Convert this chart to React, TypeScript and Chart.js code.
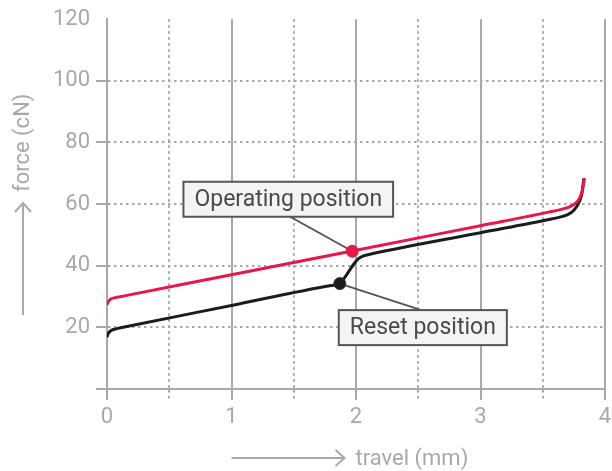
import React, { useEffect, useRef } from "react";
import { Chart, registerables } from "chart.js";

Chart.register(...registerables);

// ---- data ----
const operatingTravel = [0, 0.01, 0.03, 0.08, 0.15, 1, 2, 3, 3.55, 3.65, 3.72, 3.77, 3.8, 3.82, 3.835];
const operatingForce = [27.3, 28.3, 29.2, 29.75, 30.3, 37.1, 45.0, 53.0, 57.4, 58.3, 59.2, 60.5, 62.3, 64.8, 68.5];
const resetTravel = [0, 0.01, 0.03, 0.08, 0.15, 1, 1.8, 1.87, 1.92, 1.98, 2.02, 2.06, 2.12, 3, 3.55, 3.63, 3.7, 3.75, 3.79, 3.815, 3.83];
const resetForce = [16.8, 18.0, 18.9, 19.6, 20.2, 27.1, 33.6, 34.2, 36.8, 40.4, 42.3, 43.2, 43.8, 50.7, 55.0, 55.7, 56.6, 58.0, 60.5, 63.5, 68.3];
const operatingPoint = [1.97, 44.7];
const resetPoint = [1.87, 34.2];
const xMin = 0, xMax = 4, xStep = 0.5;
const yMin = 0, yMax = 120, yStep = 20;
const xTitle = "travel (mm)";
const yTitle = "force (cN)";
const operatingLabel = "Operating position";
const resetLabel = "Reset position";

const RED = "#e8174a";
const BLACK = "#1c1c1c";
const GRAY = "#a9a9a9";
const FONT = "Roboto";
const DOT = [2.5, 3.5];

const decorPlugin = {
  id: "decor",
  beforeDatasetsDraw(chart: any) {
    const { ctx, scales } = chart;
    const x = scales.x, y = scales.y;
    const op = { x: x.getPixelForValue(operatingPoint[0]), y: y.getPixelForValue(operatingPoint[1]) };
    const rs = { x: x.getPixelForValue(resetPoint[0]), y: y.getPixelForValue(resetPoint[1]) };
    ctx.save();
    ctx.strokeStyle = "#555";
    ctx.lineWidth = 2;
    ctx.beginPath();
    ctx.moveTo(op.x - 63, op.y - 35);
    ctx.lineTo(op.x, op.y);
    ctx.moveTo(rs.x, rs.y);
    ctx.lineTo(rs.x + 80, rs.y + 26);
    ctx.stroke();
    ctx.restore();
  },
  afterDatasetsDraw(chart: any) {
    const { ctx, scales, chartArea } = chart;
    const x = scales.x, y = scales.y;
    const op = { x: x.getPixelForValue(operatingPoint[0]), y: y.getPixelForValue(operatingPoint[1]) };
    const rs = { x: x.getPixelForValue(resetPoint[0]), y: y.getPixelForValue(resetPoint[1]) };

    const box = (text: string, cx: number, cy: number) => {
      ctx.save();
      ctx.font = `23px ${FONT}`;
      const w = ctx.measureText(text).width + 22;
      const h = 35;
      ctx.fillStyle = "#f4f4f4";
      ctx.fillRect(cx - w / 2, cy - h / 2, w, h);
      ctx.strokeStyle = "#555";
      ctx.lineWidth = 2;
      ctx.strokeRect(cx - w / 2, cy - h / 2, w, h);
      ctx.fillStyle = "#4a4a4a";
      ctx.textAlign = "center";
      ctx.textBaseline = "middle";
      ctx.fillText(text, cx, cy + 1);
      ctx.restore();
    };
    box(operatingLabel, op.x - 64, op.y - 52);
    box(resetLabel, rs.x + 83, rs.y + 44);

    // axis titles with arrows
    ctx.save();
    ctx.strokeStyle = GRAY;
    ctx.fillStyle = GRAY;
    ctx.lineWidth = 2;
    ctx.font = `22px ${FONT}`;
    // y
    const ax = 23;
    const yb = chartArea.bottom - 74, yt = chartArea.bottom - 186;
    ctx.beginPath();
    ctx.moveTo(ax, yb);
    ctx.lineTo(ax, yt);
    ctx.moveTo(ax - 8, yt + 9);
    ctx.lineTo(ax, yt);
    ctx.lineTo(ax + 8, yt + 9);
    ctx.stroke();
    ctx.save();
    ctx.translate(ax, yt - 11);
    ctx.rotate(-Math.PI / 2);
    ctx.textAlign = "left";
    ctx.textBaseline = "middle";
    ctx.fillText(yTitle, 0, 0);
    ctx.restore();
    // x
    const ay = chartArea.bottom + 69;
    const xl = x.getPixelForValue(1), xr = xl + 113;
    ctx.beginPath();
    ctx.moveTo(xl, ay);
    ctx.lineTo(xr, ay);
    ctx.moveTo(xr - 9, ay - 8);
    ctx.lineTo(xr, ay);
    ctx.lineTo(xr - 9, ay + 8);
    ctx.stroke();
    ctx.textAlign = "left";
    ctx.textBaseline = "middle";
    ctx.fillText(xTitle, xr + 11, ay + 1);
    ctx.restore();
  },
};

export default function App() {
  const ref = useRef<HTMLCanvasElement | null>(null);
  useEffect(() => {
    if (!ref.current) return;
    const chart = new Chart(ref.current, {
      type: "line",
      data: {
        datasets: [
          {
            data: operatingTravel.map((t, i) => ({ x: t, y: operatingForce[i] })),
            borderColor: RED,
            borderWidth: 3,
            pointRadius: 0,
            cubicInterpolationMode: "monotone",
            order: 2,
          },
          {
            data: resetTravel.map((t, i) => ({ x: t, y: resetForce[i] })),
            borderColor: BLACK,
            borderWidth: 3,
            pointRadius: 0,
            cubicInterpolationMode: "monotone",
            order: 2,
          },
          {
            data: [{ x: operatingPoint[0], y: operatingPoint[1] }],
            showLine: false,
            pointRadius: 6,
            pointBackgroundColor: RED,
            pointBorderColor: RED,
            order: 1,
          },
          {
            data: [{ x: resetPoint[0], y: resetPoint[1] }],
            showLine: false,
            pointRadius: 6,
            pointBackgroundColor: BLACK,
            pointBorderColor: "#333",
            order: 1,
          },
        ],
      } as any,
      options: {
        animation: false,
        responsive: true,
        maintainAspectRatio: false,
        layout: { padding: { top: 16, right: 5, left: 0, bottom: 0 } },
        plugins: { legend: { display: false }, tooltip: { enabled: false } },
        scales: {
          x: {
            type: "linear",
            min: xMin,
            max: xMax,
            afterFit: (s: any) => { s.height = 82; s.paddingRight = 0; s.paddingLeft = 0; },
            ticks: {
              stepSize: xStep,
              autoSkip: false,
              maxRotation: 0,
              padding: 4,
              color: GRAY,
              font: { family: FONT, size: 22 },
              callback: (v: any) => (Number.isInteger(v) ? String(v) : ""),
            },
            grid: {
              color: GRAY,
              lineWidth: 2,
              tickLength: 11,
              tickColor: GRAY,
              tickWidth: 2,
              tickBorderDash: (c: any) => (c.tick && !Number.isInteger(c.tick.value) ? DOT : []),
            },
            border: {
              color: GRAY,
              width: 2,
              dash: (c: any) => (c.tick && !Number.isInteger(c.tick.value) ? DOT : []),
            },
          },
          y: {
            type: "linear",
            min: yMin,
            max: yMax,
            afterFit: (s: any) => { s.width = 107; },
            ticks: {
              stepSize: yStep,
              padding: 6,
              color: GRAY,
              font: { family: FONT, size: 22 },
              callback: (v: any) => (v === yMin ? "" : String(v)),
            },
            grid: {
              color: (c: any) => (c.tick && (c.tick.value === yMin || c.tick.value === yMax) ? "rgba(0,0,0,0)" : GRAY),
              lineWidth: 2,
              tickLength: 11,
              tickWidth: 2,
              tickColor: (c: any) => (c.tick && c.tick.value === yMax ? "rgba(0,0,0,0)" : GRAY),
              tickBorderDash: [],
            },
            border: {
              color: GRAY,
              width: 2,
              dash: (c: any) => (c.tick ? DOT : []),
            },
          },
        },
      } as any,
      plugins: [decorPlugin],
    });
    return () => chart.destroy();
  }, []);
  return (
    <div style={{ position: "fixed", left: 0, top: 0, width: 612, height: 471, background: "#fff" }}>
      <canvas ref={ref} />
    </div>
  );
}
